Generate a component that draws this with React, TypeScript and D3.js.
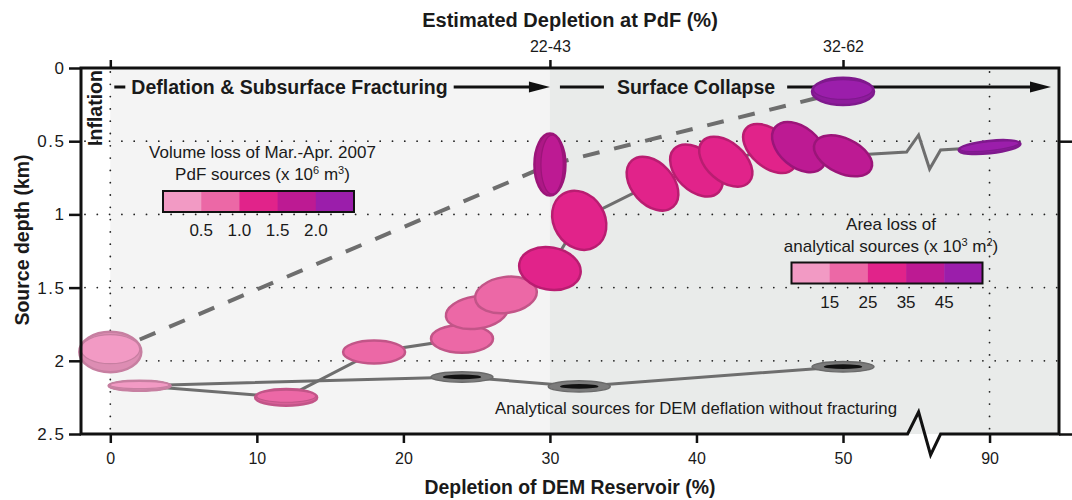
import React, { useEffect, useRef } from "react";
import * as d3 from "d3";

// analytical sources with fracturing (solid line), coloured by area loss (x 10^3 m2)
const fracDepletion = [2, 12, 18, 24, 25, 27, 30, 32, 37, 40, 42, 45, 47, 50, 90];
const fracDepth = [2.17, 2.25, 1.94, 1.85, 1.67, 1.55, 1.37, 1.04, 0.79, 0.7, 0.64, 0.55, 0.54, 0.6, 0.54];
const fracAreaLoss = [10, 18, 20, 21, 22, 24, 27, 29, 31, 32, 33, 34, 37, 38, 48];
const fracAspect = [0.16, 0.27, 0.37, 0.45, 0.52, 0.58, 0.68, 0.82, 0.67, 0.65, 0.62, 0.6, 0.64, 0.56, 0.2];
const fracDip = [0, 0, 0, 0, -8, -8, 10, 58, 48, 44, 41, 40, 40, 25, -6];

// analytical sources for DEM deflation without fracturing
const noFracDepletion = [2, 24, 32, 50];
const noFracDepth = [2.17, 2.11, 2.175, 2.04];
const noFracAspect = [0.16, 0.17, 0.18, 0.17];

// Mar.-Apr. 2007 PdF sources (dashed), coloured by volume loss (x 10^6 m3)
const pdfDepletion = [0, 30, 50];
const pdfDepth = [1.94, 0.66, 0.16];
const pdfVolumeLoss = [0.3, 1.8, 2.3];
const pdfAspect = [0.65, 0.5, 0.44];
const pdfDip = [0, 90, 0];

const bottomTicks = [0, 10, 20, 30, 40, 50, 90];
const depthTicks = [0, 0.5, 1, 1.5, 2, 2.5];
const gridDepths = [0.5, 1, 1.5, 2];
const topTicks = [0, 30, 50];
const topTickLabels = ["", "22-43", "32-62"];
const volumeThresholds = [0.5, 1.0, 1.5, 2.0];
const volumeLabels = ["0.5", "1.0", "1.5", "2.0"];
const areaThresholds = [15, 25, 35, 45];
const areaLabels = ["15", "25", "35", "45"];
const legendColors = ["#f29ac4", "#ec68a6", "#e1238a", "#bd1a93", "#9b1eab"];

const FONT = "'Liberation Sans', Arial, Helvetica, sans-serif";

const App: React.FC = () => {
  const svgRef = useRef<SVGSVGElement | null>(null);

  useEffect(() => {
    if (!svgRef.current) return;
    const width = 1072;
    const height = 500;
    const margin = { top: 68, right: 13, bottom: 66, left: 81 };
    const left = margin.left;
    const right = width - margin.right;
    const top = margin.top;
    const bottom = height - margin.bottom;

    const svg = d3.select(svgRef.current);
    svg.selectAll("*").remove();

    // broken x axis: 0..50 linear, then the axis jumps to 90
    const pxPerPct = 14.654;
    const x = d3
      .scaleLinear()
      .domain([-2, 50, 90, 108.8])
      .range([left, left + 52 * pxPerPct, left + 62 * pxPerPct, right]);
    const y = d3.scaleLinear().domain([0, 2.5]).range([top, bottom]);
    const breakAt = 72;
    const bx = x(breakAt);

    const volColor = d3.scaleThreshold<number, string>().domain(volumeThresholds).range(legendColors);
    const areaColor = d3.scaleThreshold<number, string>().domain(areaThresholds).range(legendColors);

    // background phases
    svg.append("rect").attr("x", x(0)).attr("y", top).attr("width", x(30) - x(0)).attr("height", bottom - top).attr("fill", "#f4f4f4");
    svg.append("rect").attr("x", x(30)).attr("y", top).attr("width", right - x(30)).attr("height", bottom - top).attr("fill", "#e9ebea");

    // dotted grid
    const dot = (sel: any) =>
      sel.attr("stroke", "#222").attr("stroke-width", 1.8).attr("stroke-linecap", "round").attr("stroke-dasharray", "0 12.3");
    gridDepths.forEach((d) => {
      svg.append("line").attr("x1", left + 4).attr("x2", right).attr("y1", y(d)).attr("y2", y(d)).call(dot);
    });
    [0, 90].forEach((v) => {
      svg.append("line").attr("x1", x(v)).attr("x2", x(v)).attr("y1", top + 4).attr("y2", bottom).call(dot);
    });

    // phase arrows
    const arrow = (x0: number, x1: number, yy: number) => {
      svg.append("line").attr("x1", x0).attr("x2", x1 - 18).attr("y1", yy).attr("y2", yy).attr("stroke", "#111").attr("stroke-width", 3);
      svg
        .append("path")
        .attr("d", `M${x1},${yy} L${x1 - 21},${yy - 5.5} L${x1 - 21},${yy + 5.5} Z`)
        .attr("fill", "#111");
    };
    const arrowY = 87;
    const phaseText = (tx: number, label: string) =>
      svg
        .append("text")
        .attr("x", tx)
        .attr("y", arrowY + 7)
        .attr("font-family", FONT)
        .attr("font-weight", "bold")
        .attr("font-size", 19.5)
        .attr("fill", "#1a1a1a")
        .text(label);
    svg.append("line").attr("x1", x(0) + 4).attr("x2", x(0) + 15).attr("y1", arrowY).attr("y2", arrowY).attr("stroke", "#111").attr("stroke-width", 3);
    const t1 = phaseText(x(0) + 21, "Deflation & Subsurface Fracturing");
    const t1End = x(0) + 21 + (t1.node() as SVGTextElement).getComputedTextLength();
    arrow(t1End + 6, x(30), arrowY);
    svg.append("line").attr("x1", x(30) + 10).attr("x2", x(30) + 54).attr("y1", arrowY).attr("y2", arrowY).attr("stroke", "#111").attr("stroke-width", 3);
    const t2 = phaseText(x(30) + 67, "Surface Collapse");
    const t2End = x(30) + 67 + (t2.node() as SVGTextElement).getComputedTextLength();
    arrow(t2End + 12, right - 8, arrowY);

    // connecting lines
    const lineGen = d3.line<[number, number]>();
    const dataPts = (xs: number[], ds: number[]) => xs.map((v, i) => [x(v), y(ds[i])] as [number, number]);

    svg
      .append("path")
      .attr("d", lineGen(dataPts(pdfDepletion, pdfDepth)))
      .attr("fill", "none")
      .attr("stroke", "#6e6e6e")
      .attr("stroke-width", 4)
      .attr("stroke-dasharray", "17 15");

    svg
      .append("path")
      .attr("d", lineGen(dataPts(noFracDepletion, noFracDepth)))
      .attr("fill", "none")
      .attr("stroke", "#6e6e6e")
      .attr("stroke-width", 3);

    const fracPts = dataPts(fracDepletion, fracDepth);
    const pA = fracPts[fracPts.length - 2];
    const pB = fracPts[fracPts.length - 1];
    const yi = pA[1] + ((bx - pA[0]) / (pB[0] - pA[0])) * (pB[1] - pA[1]);
    const zig: [number, number][] = [
      [bx - 17, yi + 1],
      [bx - 5, yi - 16],
      [bx + 6, yi + 18],
      [bx + 17, yi - 1],
    ];
    svg
      .append("path")
      .attr("d", lineGen([...fracPts.slice(0, -1), ...zig, pB]))
      .attr("fill", "none")
      .attr("stroke", "#6e6e6e")
      .attr("stroke-width", 3)
      .attr("stroke-linejoin", "miter");

    // source ellipses
    const major = 31;
    const drawSource = (cx: number, cy: number, aspect: number, dip: number, fill: string, disc: boolean) => {
      const g = svg.append("g").attr("transform", `translate(${cx},${cy}) rotate(${dip})`);
      const stroke = d3.color(fill)!.darker(0.55).formatHex();
      g.append("ellipse")
        .attr("rx", major)
        .attr("ry", major * aspect)
        .attr("fill", disc ? d3.color(fill)!.darker(0.25).formatHex() : fill)
        .attr("stroke", stroke)
        .attr("stroke-width", 2.5);
      if (disc) {
        g.append("ellipse")
          .attr("cy", -major * aspect * 0.14)
          .attr("rx", major * 0.95)
          .attr("ry", major * aspect * 0.72)
          .attr("fill", fill)
          .attr("stroke", stroke)
          .attr("stroke-width", 1.2);
      }
    };

    noFracDepletion.forEach((v, i) => {
      const g = svg.append("g").attr("transform", `translate(${x(v)},${y(noFracDepth[i])})`);
      g.append("ellipse").attr("rx", major).attr("ry", major * noFracAspect[i]).attr("fill", "#7b7b7b").attr("stroke", "#6a6a6a").attr("stroke-width", 1.5);
      g.append("ellipse").attr("rx", major * 0.62).attr("ry", 2.3).attr("fill", "#111");
    });

    fracDepletion.forEach((v, i) => {
      drawSource(x(v), y(fracDepth[i]), fracAspect[i], fracDip[i], areaColor(fracAreaLoss[i]), fracAspect[i] < 0.3);
    });

    pdfDepletion.forEach((v, i) => {
      drawSource(x(v), y(pdfDepth[i]), pdfAspect[i], pdfDip[i], volColor(pdfVolumeLoss[i]), true);
    });

    // colour legends
    const legend = (cx: number, lines: (string | [string, string, string, string, string])[], barTop: number, labels: string[]) => {
      const barW = 191;
      const band = d3.scaleBand<number>().domain(d3.range(legendColors.length)).range([cx - barW / 2, cx + barW / 2]);
      lines.forEach((ln, k) => {
        const t = svg
          .append("text")
          .attr("x", cx + 4)
          .attr("y", barTop - 11 - (lines.length - 1 - k) * 22)
          .attr("text-anchor", "middle")
          .attr("font-family", FONT)
          .attr("font-size", 17)
          .attr("fill", "#1a1a1a");
        if (typeof ln === "string") {
          t.text(ln);
        } else {
          t.append("tspan").text(ln[0]);
          t.append("tspan").attr("dy", -6).attr("font-size", 11).text(ln[1]);
          t.append("tspan").attr("dy", 6).text(ln[2]);
          t.append("tspan").attr("dy", -6).attr("font-size", 11).text(ln[3]);
          t.append("tspan").attr("dy", 6).text(ln[4]);
        }
      });
      legendColors.forEach((c, i) => {
        svg.append("rect").attr("x", band(i)!).attr("y", barTop).attr("width", band.bandwidth() + 0.5).attr("height", 21).attr("fill", c);
      });
      svg
        .append("rect")
        .attr("x", cx - barW / 2)
        .attr("y", barTop)
        .attr("width", barW)
        .attr("height", 21)
        .attr("fill", "none")
        .attr("stroke", "#111")
        .attr("stroke-width", 2);
      labels.forEach((lab, i) => {
        svg
          .append("text")
          .attr("x", band(i + 1)!)
          .attr("y", barTop + 45)
          .attr("text-anchor", "middle")
          .attr("font-family", FONT)
          .attr("font-size", 17)
          .attr("fill", "#1a1a1a")
          .text(lab);
      });
    };
    legend(258.5, ["Volume loss of Mar.-Apr. 2007", ["PdF sources (x 10", "6", " m", "3", ")"]], 191, volumeLabels);
    legend(887, ["Area loss of", ["analytical sources (x 10", "3", " m", "2", ")"]], 262.5, areaLabels);

    svg
      .append("text")
      .attr("x", 495)
      .attr("y", 414)
      .attr("font-family", FONT)
      .attr("font-size", 16.8)
      .attr("fill", "#1a1a1a")
      .text("Analytical sources for DEM deflation without fracturing");

    // frame with axis break
    svg
      .append("path")
      .attr(
        "d",
        `M${left},${top} H${right} V${bottom} H${bx + 17} L${bx + 7},${bottom + 21} L${bx - 5},${bottom - 22} L${bx - 16},${bottom} H${left} Z`
      )
      .attr("fill", "none")
      .attr("stroke", "#111")
      .attr("stroke-width", 3)
      .attr("stroke-linejoin", "miter");

    const styleAxis = (size: number) => (g: any) => {
      g.select(".domain").remove();
      g.selectAll(".tick line").attr("stroke", "#111").attr("stroke-width", 2.5);
      g.selectAll(".tick text").attr("font-family", FONT).attr("font-size", size).attr("fill", "#1a1a1a");
    };

    svg
      .append("g")
      .attr("transform", `translate(0,${bottom})`)
      .call(d3.axisBottom(x).tickValues(bottomTicks).tickSize(9).tickPadding(10).tickFormat(d3.format("d")))
      .call(styleAxis(16));
    svg
      .append("g")
      .attr("transform", `translate(${left},0)`)
      .call(d3.axisLeft(y).tickValues(depthTicks).tickSize(12).tickPadding(3.5).tickFormat((d) => String(d)))
      .call(styleAxis(17))
      .selectAll(".tick text")
      .attr("letter-spacing", 1.5);
    svg
      .append("g")
      .attr("transform", `translate(0,${top})`)
      .call(d3.axisTop(x).tickValues(topTicks).tickSize(8).tickPadding(8).tickFormat((_d, i) => topTickLabels[i]))
      .call(styleAxis(16));
    svg
      .append("g")
      .attr("transform", `translate(${right},0)`)
      .call(d3.axisRight(y).tickValues([0.5, 2.5]).tickSize(14).tickFormat(() => ""))
      .call(styleAxis(16));

    // titles
    const bold = (size: number) => (sel: any) =>
      sel.attr("font-family", FONT).attr("font-weight", "bold").attr("font-size", size).attr("fill", "#1a1a1a");
    svg.append("text").attr("x", (left + right) / 2).attr("y", 27).attr("text-anchor", "middle").call(bold(20)).text("Estimated Depletion at PdF (%)");
    svg.append("text").attr("x", (left + right) / 2).attr("y", 494).attr("text-anchor", "middle").call(bold(19.4)).text("Depletion of DEM Reservoir (%)");
    svg
      .append("text")
      .attr("transform", `translate(29,240) rotate(-90)`)
      .attr("text-anchor", "middle")
      .call(bold(19.5))
      .text("Source depth (km)");
    svg
      .append("text")
      .attr("transform", `translate(102,108) rotate(-90)`)
      .attr("text-anchor", "middle")
      .call(bold(19.5))
      .text("Inflation");
  }, []);

  return <svg ref={svgRef} width={1072} height={500} style={{ position: "absolute", left: 0, top: 0, background: "#fff" }}></svg>;
};

export default App;
